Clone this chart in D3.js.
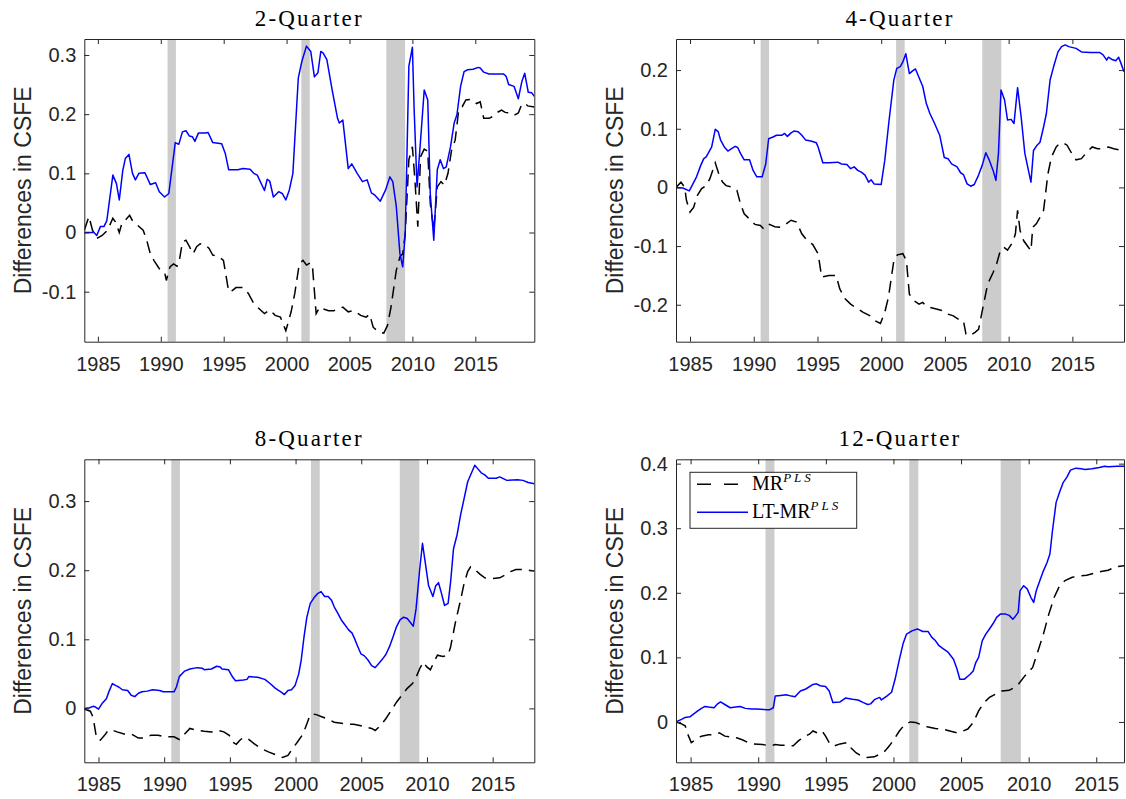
<!DOCTYPE html>
<html><head><meta charset="utf-8">
<script src="https://cdn.jsdelivr.net/npm/d3@7"></script>
<style>body{margin:0;background:#fff;}</style>
</head><body>
<svg id="chart" width="1126" height="799"></svg>
<script>
// ---------------- DATA ----------------
const titles = ["2-Quarter", "4-Quarter", "8-Quarter", "12-Quarter"];
const seriesNames = ["MR", "LT-MR"];
const seriesSup = "PLS";
const yAxisLabel = "Differences in CSFE";
const xTicks = [1985, 1990, 1995, 2000, 2005, 2010, 2015];
const xTickLabels = ["1985", "1990", "1995", "2000", "2005", "2010", "2015"];
const recessions = [[1990.54, 1991.2], [2001.17, 2001.84], [2007.93, 2009.42]];

const yTicks2Q = [-0.1, 0, 0.1, 0.2, 0.3];
const yTickLabels2Q = ["-0.1", "0", "0.1", "0.2", "0.3"];
const yTicks4Q = [-0.2, -0.1, 0, 0.1, 0.2];
const yTickLabels4Q = ["-0.2", "-0.1", "0", "0.1", "0.2"];
const yTicks8Q = [0, 0.1, 0.2, 0.3];
const yTickLabels8Q = ["0", "0.1", "0.2", "0.3"];
const yTicks12Q = [0, 0.1, 0.2, 0.3, 0.4];
const yTickLabels12Q = ["0", "0.1", "0.2", "0.3", "0.4"];

// [year, value]
const q2_LT = [[1983.92,0.000],[1984.69,0.000],[1984.91,-0.005],[1985.20,0.010],[1985.48,0.010],[1985.71,0.020],[1986.19,0.097],[1986.47,0.083],[1986.70,0.055],[1986.98,0.105],[1987.18,0.125],[1987.47,0.132],[1987.75,0.100],[1987.98,0.089],[1988.26,0.100],[1988.74,0.101],[1989.17,0.081],[1989.59,0.084],[1989.88,0.069],[1990.30,0.060],[1990.64,0.066],[1991.15,0.152],[1991.43,0.149],[1991.72,0.170],[1992.00,0.172],[1992.28,0.163],[1992.51,0.162],[1992.71,0.154],[1992.99,0.168],[1993.56,0.168],[1993.76,0.169],[1994.13,0.152],[1994.84,0.150],[1995.12,0.134],[1995.40,0.106],[1996.11,0.106],[1996.54,0.108],[1997.10,0.107],[1997.39,0.100],[1997.67,0.097],[1998.24,0.071],[1998.46,0.090],[1998.66,0.087],[1998.95,0.060],[1999.37,0.069],[1999.65,0.066],[1999.94,0.055],[2000.22,0.072],[2000.50,0.100],[2000.93,0.261],[2001.21,0.289],[2001.58,0.315],[2001.92,0.306],[2002.21,0.263],[2002.49,0.270],[2002.72,0.306],[2002.91,0.303],[2003.20,0.292],[2003.62,0.241],[2004.05,0.193],[2004.19,0.185],[2004.47,0.190],[2004.90,0.108],[2005.18,0.116],[2005.61,0.100],[2006.03,0.086],[2006.40,0.089],[2006.74,0.067],[2007.02,0.063],[2007.45,0.053],[2007.87,0.072],[2008.21,0.094],[2008.44,0.086],[2008.72,0.044],[2009.01,-0.036],[2009.23,-0.058],[2009.43,-0.002],[2009.72,0.281],[2010.00,0.313],[2010.14,0.207],[2010.37,0.077],[2010.65,0.156],[2010.94,0.241],[2011.22,0.224],[2011.42,0.066],[2011.70,-0.013],[2011.98,0.106],[2012.21,0.123],[2012.47,0.108],[2012.69,0.111],[2013.03,0.145],[2013.32,0.185],[2013.54,0.199],[2013.83,0.247],[2014.11,0.272],[2014.39,0.275],[2014.82,0.276],[2015.24,0.279],[2015.39,0.278],[2015.67,0.271],[2016.09,0.268],[2017.23,0.268],[2017.45,0.264],[2017.65,0.250],[2018.08,0.247],[2018.42,0.226],[2018.70,0.255],[2018.93,0.269],[2019.21,0.237],[2019.49,0.236],[2019.69,0.230]];
const q2_MR = [[1983.92,0.004],[1984.29,0.027],[1984.57,0.004],[1984.91,-0.010],[1985.34,-0.005],[1985.77,0.004],[1986.19,0.024],[1986.39,0.018],[1986.70,0.000],[1986.90,0.015],[1987.18,0.021],[1987.52,0.029],[1987.75,0.020],[1988.17,0.012],[1988.60,0.004],[1988.88,-0.013],[1989.17,-0.036],[1989.45,-0.047],[1989.88,-0.061],[1990.30,-0.067],[1990.44,-0.081],[1990.73,-0.058],[1991.01,-0.053],[1991.29,-0.057],[1991.43,-0.053],[1991.72,-0.016],[1992.00,-0.013],[1992.28,-0.024],[1992.57,-0.036],[1992.85,-0.024],[1993.13,-0.019],[1993.56,-0.021],[1993.84,-0.027],[1994.13,-0.038],[1994.55,-0.040],[1994.98,-0.047],[1995.40,-0.100],[1995.69,-0.098],[1995.97,-0.093],[1996.54,-0.093],[1996.96,-0.103],[1997.39,-0.120],[1997.67,-0.126],[1998.24,-0.137],[1998.66,-0.131],[1999.09,-0.140],[1999.51,-0.143],[1999.94,-0.166],[2000.36,-0.134],[2000.65,-0.103],[2001.01,-0.053],[2001.30,-0.047],[2001.58,-0.055],[2001.92,-0.051],[2002.06,-0.058],[2002.35,-0.137],[2002.63,-0.126],[2002.91,-0.129],[2003.34,-0.132],[2003.76,-0.132],[2004.47,-0.126],[2004.90,-0.134],[2005.32,-0.132],[2005.89,-0.140],[2006.32,-0.143],[2006.60,-0.138],[2006.88,-0.160],[2007.31,-0.168],[2007.73,-0.170],[2008.02,-0.157],[2008.30,-0.126],[2008.72,-0.064],[2009.01,-0.041],[2009.23,-0.036],[2009.43,-0.002],[2009.72,0.123],[2010.00,0.145],[2010.20,0.089],[2010.43,0.010],[2010.65,0.128],[2010.94,0.141],[2011.22,0.137],[2011.42,0.049],[2011.70,0.004],[2011.98,0.077],[2012.27,0.086],[2012.55,0.080],[2012.83,0.100],[2013.12,0.140],[2013.40,0.156],[2013.68,0.207],[2013.97,0.213],[2014.25,0.224],[2014.68,0.225],[2015.10,0.218],[2015.39,0.221],[2015.67,0.193],[2016.09,0.193],[2016.38,0.196],[2016.66,0.202],[2017.09,0.207],[2017.37,0.203],[2017.80,0.202],[2018.08,0.198],[2018.42,0.202],[2018.64,0.214],[2018.93,0.219],[2019.16,0.214],[2019.69,0.212]];

const q4_LT = [[1983.90,0.000],[1984.43,-0.001],[1984.94,-0.006],[1985.23,0.006],[1985.51,0.018],[1985.85,0.038],[1986.08,0.049],[1986.27,0.052],[1986.70,0.069],[1986.98,0.099],[1987.21,0.095],[1987.41,0.080],[1987.69,0.069],[1987.97,0.062],[1988.26,0.066],[1988.54,0.070],[1988.74,0.068],[1988.96,0.058],[1989.25,0.047],[1989.67,0.047],[1989.95,0.029],[1990.24,0.018],[1990.66,0.018],[1990.94,0.040],[1991.17,0.083],[1991.51,0.086],[1991.79,0.089],[1992.22,0.089],[1992.42,0.092],[1992.64,0.087],[1992.93,0.093],[1993.15,0.096],[1993.49,0.095],[1993.77,0.089],[1994.06,0.081],[1994.48,0.079],[1994.91,0.076],[1995.05,0.069],[1995.42,0.042],[1995.90,0.042],[1996.60,0.043],[1996.89,0.040],[1997.31,0.039],[1997.60,0.032],[1997.88,0.035],[1998.16,0.029],[1998.44,0.026],[1998.73,0.021],[1999.01,0.009],[1999.21,0.013],[1999.44,0.006],[2000.00,0.005],[2000.28,0.046],[2000.62,0.115],[2000.99,0.183],[2001.22,0.203],[2001.50,0.206],[2001.70,0.214],[2001.93,0.228],[2002.21,0.194],[2002.49,0.199],[2002.69,0.202],[2003.26,0.172],[2003.54,0.143],[2003.82,0.126],[2004.19,0.109],[2004.59,0.089],[2004.95,0.051],[2005.24,0.049],[2005.52,0.040],[2005.95,0.035],[2006.23,0.025],[2006.45,0.022],[2006.74,0.006],[2007.02,0.002],[2007.30,0.005],[2007.64,0.021],[2007.93,0.038],[2008.21,0.059],[2008.49,0.046],[2008.78,0.029],[2009.00,0.012],[2009.20,0.058],[2009.40,0.166],[2009.68,0.149],[2009.91,0.115],[2010.19,0.116],[2010.42,0.109],[2010.70,0.170],[2010.98,0.120],[2011.27,0.058],[2011.61,0.023],[2011.75,0.009],[2011.95,0.063],[2012.23,0.072],[2012.46,0.077],[2012.74,0.103],[2012.96,0.126],[2013.25,0.183],[2013.53,0.206],[2013.87,0.231],[2014.15,0.240],[2014.43,0.243],[2014.72,0.240],[2015.29,0.237],[2015.71,0.231],[2016.42,0.230],[2017.13,0.230],[2017.41,0.226],[2017.69,0.217],[2017.83,0.222],[2018.12,0.218],[2018.40,0.216],[2018.63,0.222],[2018.82,0.211],[2019.05,0.197]];
const q4_MR = [[1983.90,0.000],[1984.29,0.009],[1984.58,0.000],[1984.72,-0.022],[1985.00,-0.042],[1985.28,-0.034],[1985.57,-0.014],[1985.91,-0.002],[1986.27,0.003],[1986.56,0.015],[1986.98,0.042],[1987.26,0.023],[1987.55,0.009],[1987.83,0.003],[1988.26,0.001],[1988.68,-0.005],[1988.96,-0.028],[1989.25,-0.045],[1989.67,-0.054],[1990.09,-0.063],[1990.52,-0.065],[1990.80,-0.071],[1991.23,-0.063],[1991.65,-0.067],[1992.08,-0.068],[1992.50,-0.063],[1992.93,-0.056],[1993.35,-0.059],[1993.77,-0.079],[1994.20,-0.091],[1994.62,-0.097],[1995.05,-0.113],[1995.33,-0.153],[1995.90,-0.150],[1996.46,-0.150],[1996.75,-0.173],[1997.17,-0.190],[1997.60,-0.199],[1998.02,-0.205],[1998.59,-0.213],[1999.15,-0.219],[1999.58,-0.228],[1999.94,-0.232],[2000.28,-0.213],[2000.57,-0.187],[2000.99,-0.125],[2001.27,-0.115],[2001.70,-0.113],[2001.98,-0.125],[2002.21,-0.182],[2002.55,-0.193],[2002.97,-0.199],[2003.26,-0.196],[2003.54,-0.203],[2004.25,-0.207],[2004.81,-0.210],[2005.24,-0.216],[2005.66,-0.219],[2006.09,-0.225],[2006.45,-0.227],[2006.65,-0.250],[2006.94,-0.253],[2007.36,-0.247],[2007.64,-0.242],[2007.98,-0.205],[2008.35,-0.165],[2008.78,-0.145],[2009.06,-0.130],[2009.34,-0.108],[2009.62,-0.102],[2009.91,-0.107],[2010.33,-0.093],[2010.53,-0.079],[2010.70,-0.039],[2010.90,-0.074],[2011.18,-0.091],[2011.55,-0.102],[2011.75,-0.108],[2011.89,-0.068],[2012.17,-0.062],[2012.46,-0.051],[2012.74,-0.039],[2013.08,0.023],[2013.36,0.052],[2013.73,0.069],[2014.01,0.075],[2014.29,0.076],[2014.58,0.072],[2015.00,0.056],[2015.29,0.047],[2015.71,0.049],[2016.13,0.060],[2016.55,0.069],[2016.98,0.066],[2017.41,0.066],[2017.83,0.069],[2018.25,0.066],[2018.68,0.064],[2019.05,0.063]];

const q8_LT = [[1983.92,0.000],[1984.32,0.001],[1984.59,0.003],[1984.78,0.002],[1985.00,-0.001],[1985.27,0.007],[1985.60,0.014],[1985.81,0.025],[1986.06,0.036],[1986.33,0.033],[1986.54,0.031],[1986.82,0.027],[1987.22,0.026],[1987.49,0.019],[1987.76,0.017],[1988.04,0.022],[1988.31,0.024],[1988.71,0.025],[1989.12,0.027],[1989.66,0.026],[1989.93,0.024],[1990.75,0.024],[1990.93,0.031],[1991.15,0.046],[1991.56,0.054],[1991.96,0.057],[1992.51,0.059],[1992.91,0.058],[1993.05,0.056],[1993.59,0.057],[1994.00,0.061],[1994.27,0.060],[1994.40,0.057],[1994.89,0.056],[1995.22,0.045],[1995.43,0.040],[1996.03,0.041],[1996.30,0.042],[1996.44,0.046],[1997.11,0.045],[1997.66,0.042],[1998.06,0.036],[1998.47,0.029],[1998.88,0.024],[1999.15,0.020],[1999.42,0.026],[1999.69,0.027],[1999.96,0.033],[2000.24,0.050],[2000.43,0.070],[2000.64,0.103],[2000.86,0.132],[2001.12,0.152],[2001.40,0.160],[2001.67,0.166],[2001.94,0.169],[2002.21,0.162],[2002.48,0.162],[2002.75,0.156],[2002.94,0.147],[2003.21,0.138],[2003.48,0.128],[2003.75,0.121],[2004.02,0.114],[2004.30,0.109],[2004.49,0.101],[2004.70,0.091],[2004.97,0.079],[2005.24,0.076],[2005.51,0.070],[2005.79,0.062],[2006.06,0.059],[2006.33,0.065],[2006.60,0.071],[2006.87,0.078],[2007.14,0.089],[2007.41,0.103],[2007.68,0.118],[2007.95,0.128],[2008.22,0.132],[2008.50,0.130],[2008.71,0.125],[2008.96,0.119],[2009.17,0.144],[2009.44,0.200],[2009.66,0.239],[2009.85,0.214],[2010.12,0.178],[2010.45,0.162],[2010.66,0.177],[2010.88,0.182],[2011.07,0.169],[2011.34,0.149],[2011.61,0.152],[2011.80,0.183],[2012.02,0.231],[2012.29,0.251],[2012.56,0.280],[2012.83,0.304],[2013.10,0.328],[2013.37,0.340],[2013.64,0.352],[2013.86,0.347],[2014.13,0.341],[2014.40,0.338],[2014.67,0.333],[2015.27,0.333],[2015.54,0.335],[2016.08,0.330],[2016.90,0.331],[2017.30,0.330],[2017.71,0.327],[2018.17,0.325]];
const q8_MR = [[1983.92,-0.001],[1984.38,-0.004],[1984.59,-0.013],[1984.86,-0.044],[1985.14,-0.046],[1985.46,-0.039],[1985.73,-0.032],[1986.00,-0.031],[1986.41,-0.034],[1986.95,-0.037],[1987.49,-0.037],[1988.04,-0.043],[1988.44,-0.043],[1988.98,-0.039],[1989.53,-0.039],[1990.07,-0.041],[1990.75,-0.041],[1991.15,-0.045],[1991.56,-0.037],[1991.96,-0.029],[1992.37,-0.031],[1993.05,-0.033],[1993.59,-0.034],[1994.13,-0.032],[1994.54,-0.034],[1994.95,-0.039],[1995.22,-0.049],[1995.49,-0.052],[1995.76,-0.046],[1996.03,-0.042],[1996.44,-0.045],[1996.84,-0.051],[1997.38,-0.058],[1997.93,-0.063],[1998.47,-0.067],[1999.01,-0.071],[1999.42,-0.068],[1999.77,-0.058],[2000.09,-0.050],[2000.50,-0.039],[2000.77,-0.027],[2001.04,-0.013],[2001.23,-0.008],[2001.59,-0.009],[2001.99,-0.012],[2002.40,-0.015],[2002.94,-0.020],[2003.35,-0.021],[2003.89,-0.023],[2004.43,-0.023],[2004.97,-0.025],[2005.38,-0.027],[2005.79,-0.029],[2006.06,-0.032],[2006.46,-0.025],[2006.87,-0.015],[2007.28,-0.003],[2007.68,0.009],[2008.09,0.019],[2008.50,0.029],[2008.90,0.036],[2009.17,0.045],[2009.44,0.057],[2009.72,0.067],[2009.99,0.060],[2010.26,0.056],[2010.53,0.067],[2010.80,0.077],[2011.21,0.075],[2011.61,0.077],[2011.80,0.089],[2012.15,0.123],[2012.56,0.157],[2012.83,0.181],[2013.10,0.198],[2013.32,0.205],[2013.64,0.201],[2014.05,0.194],[2014.40,0.189],[2015.00,0.188],[2015.54,0.189],[2015.95,0.193],[2016.36,0.198],[2016.77,0.201],[2017.17,0.201],[2017.71,0.200],[2018.17,0.199]];

const q12_LT = [[1983.92,0.000],[1984.33,0.004],[1984.60,0.007],[1984.95,0.008],[1985.21,0.012],[1985.53,0.017],[1985.80,0.021],[1986.06,0.024],[1986.33,0.023],[1986.73,0.022],[1987.00,0.028],[1987.21,0.031],[1987.53,0.027],[1987.93,0.022],[1988.33,0.023],[1988.67,0.024],[1989.05,0.021],[1989.53,0.020],[1989.93,0.020],[1990.59,0.019],[1990.86,0.019],[1991.12,0.022],[1991.26,0.040],[1991.66,0.041],[1992.06,0.042],[1992.45,0.040],[1992.72,0.039],[1993.12,0.048],[1993.52,0.051],[1994.05,0.058],[1994.32,0.059],[1994.58,0.056],[1994.98,0.055],[1995.25,0.048],[1995.52,0.030],[1996.05,0.031],[1996.45,0.037],[1996.98,0.035],[1997.38,0.034],[1997.78,0.030],[1998.10,0.027],[1998.31,0.028],[1998.63,0.035],[1998.98,0.038],[1999.11,0.034],[1999.51,0.040],[1999.86,0.046],[2000.12,0.066],[2000.44,0.097],[2000.71,0.121],[2000.97,0.136],[2001.37,0.141],[2001.77,0.144],[2002.17,0.140],[2002.57,0.140],[2002.84,0.131],[2003.10,0.126],[2003.37,0.118],[2003.64,0.114],[2004.04,0.108],[2004.44,0.097],[2004.70,0.082],[2004.91,0.066],[2005.23,0.066],[2005.63,0.073],[2005.90,0.079],[2006.09,0.092],[2006.30,0.100],[2006.57,0.126],[2006.83,0.136],[2007.10,0.144],[2007.36,0.152],[2007.63,0.162],[2007.90,0.167],[2008.30,0.167],[2008.56,0.165],[2008.83,0.159],[2008.96,0.162],[2009.23,0.170],[2009.36,0.203],[2009.63,0.211],[2009.89,0.206],[2010.16,0.193],[2010.37,0.185],[2010.56,0.203],[2010.83,0.219],[2011.09,0.234],[2011.36,0.247],[2011.57,0.260],[2011.76,0.296],[2012.03,0.340],[2012.29,0.356],[2012.56,0.371],[2012.83,0.379],[2013.09,0.390],[2013.49,0.393],[2013.89,0.392],[2014.15,0.391],[2014.69,0.392],[2015.22,0.394],[2015.62,0.396],[2015.88,0.395],[2016.55,0.396],[2017.05,0.396]];
const q12_MR = [[1983.92,0.000],[1984.33,-0.003],[1984.60,-0.006],[1984.79,-0.019],[1985.05,-0.032],[1985.40,-0.027],[1985.80,-0.022],[1986.33,-0.020],[1986.73,-0.020],[1987.13,-0.017],[1987.53,-0.022],[1987.93,-0.023],[1988.46,-0.025],[1988.86,-0.028],[1989.26,-0.032],[1989.66,-0.034],[1990.32,-0.035],[1990.86,-0.037],[1991.26,-0.035],[1991.66,-0.036],[1992.19,-0.036],[1992.59,-0.037],[1992.99,-0.029],[1993.39,-0.023],[1993.79,-0.019],[1994.05,-0.014],[1994.37,-0.017],[1994.72,-0.014],[1994.98,-0.022],[1995.33,-0.035],[1995.65,-0.037],[1996.05,-0.034],[1996.58,-0.032],[1996.85,-0.040],[1997.25,-0.048],[1997.65,-0.053],[1998.05,-0.055],[1998.58,-0.054],[1998.98,-0.050],[1999.38,-0.045],[1999.70,-0.037],[2000.04,-0.027],[2000.44,-0.014],[2000.84,-0.004],[2001.24,0.000],[2001.64,-0.001],[2002.04,-0.004],[2002.57,-0.008],[2003.10,-0.010],[2003.64,-0.011],[2004.17,-0.014],[2004.70,-0.017],[2005.02,-0.015],[2005.50,-0.011],[2005.90,-0.001],[2006.30,0.017],[2006.70,0.030],[2007.10,0.038],[2007.63,0.044],[2008.03,0.048],[2008.56,0.049],[2008.91,0.053],[2009.23,0.058],[2009.63,0.069],[2010.03,0.079],[2010.29,0.084],[2010.69,0.110],[2011.09,0.136],[2011.49,0.167],[2011.89,0.193],[2012.29,0.211],[2012.69,0.219],[2013.22,0.224],[2013.76,0.226],[2014.29,0.227],[2014.82,0.230],[2015.35,0.233],[2015.88,0.235],[2016.42,0.240],[2017.05,0.242]];

// ---------------- LAYOUT ----------------
const panels = [
  {title: titles[0], mr: q2_MR, lt: q2_LT, yt: yTicks2Q, yl: yTickLabels2Q, yd: [-0.1845, 0.327], x0: 84.3, x1: 534.3, y0: 39, y1: 341.7},
  {title: titles[1], mr: q4_MR, lt: q4_LT, yt: yTicks4Q, yl: yTickLabels4Q, yd: [-0.263, 0.253], x0: 676, x1: 1124, y0: 39, y1: 341.7},
  {title: titles[2], mr: q8_MR, lt: q8_LT, yt: yTicks8Q, yl: yTickLabels8Q, yd: [-0.078, 0.3605], x0: 84.3, x1: 534.3, y0: 459.3, y1: 762.3},
  {title: titles[3], mr: q12_MR, lt: q12_LT, yt: yTicks12Q, yl: yTickLabels12Q, yd: [-0.0625, 0.4067], x0: 676, x1: 1124, y0: 459.3, y1: 762.3, legend: true}
];

const AX = "#262626";
const SANS = "'Liberation Sans', Arial, Helvetica, sans-serif";
const SERIF = "'Liberation Serif', 'Times New Roman', serif";
const svg = d3.select("#chart");
svg.append("rect").attr("width", 1126).attr("height", 799).attr("fill", "#fff");
const defs = svg.append("defs");

panels.forEach((p, i) => {
  const xd = [p.lt[0][0], p.lt[p.lt.length - 1][0]];
  const x = d3.scaleLinear().domain(xd).range([p.x0, p.x1]);
  const y = d3.scaleLinear().domain(p.yd).range([p.y1, p.y0]);
  const g = svg.append("g");

  defs.append("clipPath").attr("id", "clip" + i).append("rect")
    .attr("x", p.x0).attr("y", p.y0).attr("width", p.x1 - p.x0).attr("height", p.y1 - p.y0);

  const plot = g.append("g").attr("clip-path", `url(#clip${i})`);
  plot.selectAll("rect.band").data(recessions).join("rect").attr("class", "band")
    .attr("x", d => x(d[0])).attr("width", d => x(d[1]) - x(d[0]))
    .attr("y", p.y0).attr("height", p.y1 - p.y0).attr("fill", "#cccccc");

  const line = d3.line().x(d => x(d[0])).y(d => y(d[1]));
  plot.append("path").datum(p.mr).attr("d", line).attr("fill", "none")
    .attr("stroke", "#000").attr("stroke-width", 1.5).attr("stroke-dasharray", "12,7");
  plot.append("path").datum(p.lt).attr("d", line).attr("fill", "none")
    .attr("stroke", "#0000ff").attr("stroke-width", 1.5).attr("stroke-linejoin", "round");

  const styleAxis = sel => {
    sel.attr("font-family", SANS).attr("font-size", 20);
    sel.selectAll("path.domain").attr("stroke", AX).attr("stroke-width", 1);
    sel.selectAll(".tick line").attr("stroke", AX).attr("stroke-width", 1);
    sel.selectAll(".tick text").attr("fill", AX);
  };
  g.append("g").attr("transform", `translate(0,${p.y1})`)
    .call(d3.axisBottom(x).tickValues(xTicks).tickFormat((d, k) => xTickLabels[k])
      .tickSizeInner(-5).tickSizeOuter(0).tickPadding(15)).call(styleAxis);
  g.append("g").attr("transform", `translate(0,${p.y0})`)
    .call(d3.axisTop(x).tickValues(xTicks).tickFormat("")
      .tickSizeInner(-5).tickSizeOuter(0)).call(styleAxis);
  g.append("g").attr("transform", `translate(${p.x0},0)`)
    .call(d3.axisLeft(y).tickValues(p.yt).tickFormat((d, k) => p.yl[k])
      .tickSizeInner(-5).tickSizeOuter(0).tickPadding(8)).call(styleAxis);
  g.append("g").attr("transform", `translate(${p.x1},0)`)
    .call(d3.axisRight(y).tickValues(p.yt).tickFormat("")
      .tickSizeInner(-5).tickSizeOuter(0)).call(styleAxis);

  g.append("text").attr("x", (p.x0 + p.x1) / 2).attr("y", p.y0 - 13)
    .attr("text-anchor", "middle").attr("font-family", SERIF)
    .attr("font-size", 23).attr("letter-spacing", "2.2px").attr("fill", "#000").text(p.title);

  g.append("text").attr("transform", `translate(${p.x0 - 53},${(p.y0 + p.y1) / 2}) rotate(-90)`)
    .attr("text-anchor", "middle").attr("font-family", SANS)
    .attr("font-size", 23).attr("fill", AX).text(yAxisLabel);

  if (p.legend) {
    const lx = p.x0 + 14, ly = p.y0 + 13;
    const lg = g.append("g");
    lg.append("rect").attr("x", lx).attr("y", ly).attr("width", 166.7).attr("height", 56)
      .attr("fill", "#fff").attr("stroke", AX).attr("stroke-width", 1);
    const rows = [
      {name: seriesNames[0], color: "#000", dash: "14,13", len: 45, dy: 12},
      {name: seriesNames[1], color: "#0000ff", dash: null, len: 51, dy: 40}
    ];
    rows.forEach(r => {
      lg.append("line").attr("x1", lx + 7).attr("x2", lx + 7 + r.len)
        .attr("y1", ly + r.dy).attr("y2", ly + r.dy)
        .attr("stroke", r.color).attr("stroke-width", 1.5).attr("stroke-dasharray", r.dash);
      const t = lg.append("text").attr("x", lx + 62).attr("y", ly + r.dy + 5.5)
        .attr("font-family", SERIF).attr("font-size", 20).attr("fill", "#000");
      t.append("tspan").text(r.name);
      t.append("tspan").attr("dy", -8).attr("font-size", 13).attr("font-style", "italic")
        .attr("letter-spacing", "3px").text(seriesSup);
    });
  }
});
</script>
</body></html>
